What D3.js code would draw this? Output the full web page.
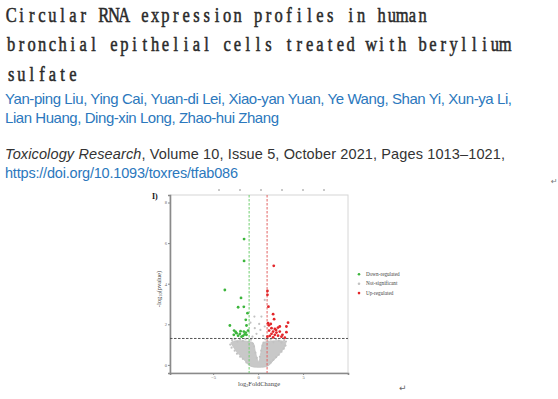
<html lang="en">
<head>
    <meta charset="UTF-8">
    <title>Circular RNA volcano plot</title>
    <script src="https://cdn.jsdelivr.net/npm/d3@7"></script>
    <style>
        body { margin: 0; background: #fff; }
    </style>
</head>
<body>
    <svg id="svg"></svg>

    <script>

        var WIDTH = 558;
        var HEIGHT = 399;

        // header text
        var titleLines = ["Circular RNA expression profiles in human",
                          "bronchial epithelial cells treated with beryllium",
                          "sulfate"];
        var authorLines = ["Yan-ping Liu, Ying Cai, Yuan-di Lei, Xiao-yan Yuan, Ye Wang, Shan Yi, Xun-ya Li,",
                           "Lian Huang, Ding-xin Long, Zhao-hui Zhang"];
        var journal = "Toxicology Research";
        var citation = ", Volume 10, Issue 5, October 2021, Pages 1013\u20131021,";
        var doi = "https://doi.org/10.1093/toxres/tfab086";

        // volcano data: [log2FoldChange, -log10(pvalue)]
        var downPts = [[-1.56,6.2],[-1.56,5.12],[-3.7,3.69],[-1.9,3.3],[-2.22,2.84],[-1.59,2.86],
                       [-1.18,2.55],[-1.37,2.22],[-3.14,1.94],[-1.29,1.94],[-2.67,1.69],[-2.4,1.56],
                       [-2.03,1.53],[-2.7,1.48],[-2.22,1.44],[-1.59,1.64],[-1.37,1.59],[-1.29,1.48],
                       [-1.67,1.43],[-1.84,1.39],[-1.11,1.69],[-2.5,1.62],[-1.95,1.66],[-1.5,1.5]];
        var upPts = [[1.74,4.88],[1.04,3.64],[1.04,3.45],[1.15,2.87],[1.67,2.5],[1.78,2.25],
                     [3.33,2.08],[3.15,1.89],[1.11,2.05],[1.41,2.02],[1.49,1.81],[1.86,1.77],
                     [2.22,1.84],[2.41,1.89],[1.22,1.69],[1.67,1.64],[2.04,1.59],[2.41,1.64],
                     [1.49,1.53],[1.86,1.48],[2.22,1.44],[2.71,1.48],[1.3,1.43],[2.6,1.39],
                     [2.97,1.34],[1.04,1.39],[1.67,1.36],[3.15,1.61],[1.2,1.95],[2.0,1.72]];
        var nsPts = [[0.74,3.2],[0.37,2.38],[-0.41,2.38],[-0.85,2.08],[0.12,2.02],[-0.37,1.81],
                     [0.26,1.72],[-0.18,1.53],[0.56,1.43],[-0.63,1.39],[0.74,1.89],
                     [-2.9,1.22],[-2.6,1.28],[-2.3,1.15],[-2.0,1.25],[-1.7,1.18],[-1.4,1.27],
                     [-1.1,1.12],[-0.8,1.24],[-0.6,1.05],[0.6,1.1],[0.8,1.26],[1.1,1.15],
                     [1.4,1.25],[1.7,1.12],[2.0,1.27],[2.3,1.2],[2.6,1.1],[2.9,1.22],[3.1,1.15],
                     [-3.1,1.0],[-2.95,0.85],[-2.6,0.7],[-2.35,0.55],[-2.0,0.4],[-1.7,0.3],
                     [-1.3,0.12],[3.05,0.95],[2.85,0.8],[2.6,0.65],[2.3,0.5],[2.0,0.38],
                     [1.7,0.25],[1.4,0.12],[-0.45,0.9],[-0.3,0.6],[-0.15,0.35],[0.2,0.4],
                     [0.35,0.7],[0.5,0.95]];
        // outline of the dense grey cloud of non-significant circRNAs
        var cloudOutline = [[-0.9,-0.05],[-1.5,0.22],[-2.2,0.55],[-2.75,0.88],[-3.0,1.1],
                            [-2.6,1.18],[-1.0,1.15],[-0.55,1.08],[-0.28,0.6],[0.06,0.16],
                            [0.3,0.6],[0.55,1.08],[1.0,1.15],[2.7,1.18],[3.05,1.1],[2.95,0.88],
                            [2.4,0.55],[1.7,0.22],[1.1,-0.05],[0.1,-0.12]];

        var yTicks = [0, 2, 4, 6, 8];
        var xTicks = [-5, 0, 5];
        var fcCut = [-1, 1];
        var pCut = 1.301;
        var legendLabels = ["Down-regulated", "Not-significant", "Up-regulated"];
        var prevTicks = [0, 1, 2, 3, 4, 5];

        var GREEN = "#3cb53c";
        var RED = "#e3262a";
        var GREY = "#c2c2c2";
        var BLUE = "#2b78bd";

        var svg = d3.select('#svg')
                    .attr("width", WIDTH)
                    .attr("height", HEIGHT);

        svg.append("rect")
            .attr("width", WIDTH)
            .attr("height", HEIGHT)
            .attr("fill", "#fff");

        // title: fixed-width serif, one cell per character
        var CELL = 10.29, SX = 0.75;
        svg.selectAll("g.title")
            .data(titleLines)
            .enter()
            .append("g")
            .attr("class", "title")
            .attr("transform", function(d, i){ return "translate(6," + (22 + i * 29.4) + ") scale(" + SX + ",1)"; })
            .append("text")
            .attr("x", function(d){
                return d.split("").map(function(c, i){ return ((i + 0.5) * CELL / SX).toFixed(2); }).join(" ");
            })
            .attr("text-anchor", "middle")
            .attr("font-family", "Liberation Serif, serif")
            .attr("font-size", "22px")
            .attr("fill", "#2a2a2a")
            .attr("stroke", "#2a2a2a")
            .attr("stroke-width", 0.55)
            .text(function(d){ return d; });

        var authorWidths = [507, 274];
        svg.selectAll("text.author")
            .data(authorLines)
            .enter()
            .append("text")
            .attr("class", "author")
            .attr("x", 5)
            .attr("y", function(d, i){ return 104 + i * 19.4; })
            .attr("textLength", function(d, i){ return authorWidths[i]; })
            .attr("lengthAdjust", "spacing")
            .attr("font-family", "Liberation Sans, Arial, sans-serif")
            .attr("font-size", "15px")
            .attr("fill", BLUE)
            .text(function(d){ return d; });

        var cite = svg.append("text")
            .attr("x", 5)
            .attr("y", 158.5)
            .attr("textLength", 500)
            .attr("lengthAdjust", "spacing")
            .attr("font-family", "Liberation Sans, Arial, sans-serif")
            .attr("font-size", "14.5px")
            .attr("fill", "#333");
        cite.append("tspan").attr("font-style", "italic").text(journal);
        cite.append("tspan").text(citation);

        svg.append("text")
            .attr("x", 5)
            .attr("y", 178)
            .attr("textLength", 233)
            .attr("lengthAdjust", "spacing")
            .attr("font-family", "Liberation Sans, Arial, sans-serif")
            .attr("font-size", "14.5px")
            .attr("fill", BLUE)
            .text(doi);

        // return marks from the original page
        svg.append("text")
            .attr("x", 399).attr("y", 391)
            .attr("font-family", "DejaVu Sans")
            .attr("font-size", "9px")
            .attr("fill", "#666")
            .text("\u21b5");
        svg.append("text")
            .attr("x", 551).attr("y", 184)
            .attr("font-family", "DejaVu Sans")
            .attr("font-size", "8px")
            .attr("fill", "#777")
            .text("\u21b5");

        // ---- volcano panel ----
        var PL = 170, PR = 348, PT = 195, PB = 373;

        var xScale = d3.scaleLinear()
                        .domain([-9.8, 10])
                        .range([PL, PR]);

        var yScale = d3.scaleLinear()
                        .domain([-0.4, 8.37])
                        .range([PB, PT]);

        // remnants of the panel above
        var prevScale = d3.scaleLinear().domain([0, 5]).range([219, 324]);
        svg.selectAll("line.prev")
            .data(prevTicks)
            .enter()
            .append("line")
            .attr("class", "prev")
            .attr("x1", function(d){ return prevScale(d) - 1; })
            .attr("x2", function(d){ return prevScale(d) + 1; })
            .attr("y1", 190).attr("y2", 190)
            .attr("stroke", "#777")
            .attr("stroke-width", 0.8);

        svg.append("rect")
            .attr("x", PL).attr("y", PT)
            .attr("width", PR - PL).attr("height", PB - PT)
            .attr("fill", "none")
            .attr("stroke", "#d6d6d6")
            .attr("stroke-width", 1);

        var xAxis = d3.axisBottom(xScale).tickValues(xTicks).tickSize(2).tickPadding(1);
        var yAxis = d3.axisLeft(yScale).tickValues(yTicks).tickSize(2).tickPadding(1);

        var gx = svg.append("g")
            .attr("class", "x axis")
            .attr("transform", "translate(0," + PB + ")")
            .call(xAxis);
        var gy = svg.append("g")
            .attr("class", "y axis")
            .attr("transform", "translate(" + PL + ",0)")
            .call(yAxis);

        [gx, gy].forEach(function(g){
            g.select(".domain").attr("stroke", "#8a8a8a").attr("stroke-width", 1.6);
            g.selectAll(".tick line").attr("stroke", "#888");
            g.selectAll(".tick text")
             .attr("font-family", "Liberation Serif, serif")
             .attr("font-size", "4.6px")
             .attr("fill", "#666");
        });

        var line = d3.line()
                    .x(function(d){ return xScale(d[0]); })
                    .y(function(d){ return yScale(d[1]); })
                    .curve(d3.curveCatmullRomClosed);

        svg.append("path")
            .datum(cloudOutline)
            .attr("d", line)
            .attr("fill", "#c8c8c8")
            .attr("stroke", "#c2c2c2")
            .attr("stroke-width", 0.8);

        svg.selectAll("circle.ns")
            .data(nsPts)
            .enter()
            .append("circle")
            .attr("class", "ns")
            .attr("cx", function(d){ return xScale(d[0]); })
            .attr("cy", function(d){ return yScale(d[1]); })
            .attr("r", 1.1)
            .attr("fill", GREY);

        // threshold lines
        svg.selectAll("line.fc")
            .data(fcCut)
            .enter()
            .append("line")
            .attr("class", "fc")
            .attr("x1", function(d){ return xScale(d); })
            .attr("x2", function(d){ return xScale(d); })
            .attr("y1", PT).attr("y2", PB)
            .attr("stroke", function(d){ return d < 0 ? "#6fcf6f" : "#e26262"; })
            .attr("stroke-width", 1)
            .attr("stroke-dasharray", "2.5,1.5");

        svg.append("line")
            .attr("x1", PL).attr("x2", PR)
            .attr("y1", yScale(pCut)).attr("y2", yScale(pCut))
            .attr("stroke", "#555")
            .attr("stroke-width", 1)
            .attr("stroke-dasharray", "2.5,1.5");

        svg.selectAll("circle.down")
            .data(downPts)
            .enter()
            .append("circle")
            .attr("class", "down")
            .attr("cx", function(d){ return xScale(d[0]); })
            .attr("cy", function(d){ return yScale(d[1]); })
            .attr("r", 1.4)
            .attr("fill", GREEN);

        svg.selectAll("circle.up")
            .data(upPts)
            .enter()
            .append("circle")
            .attr("class", "up")
            .attr("cx", function(d){ return xScale(d[0]); })
            .attr("cy", function(d){ return yScale(d[1]); })
            .attr("r", 1.4)
            .attr("fill", RED);

        // axis titles
        var xt = svg.append("text")
            .attr("x", 259).attr("y", 386)
            .attr("text-anchor", "middle")
            .attr("font-family", "Liberation Serif, serif")
            .attr("font-size", "6.5px")
            .attr("fill", "#444");
        xt.append("tspan").text("log");
        xt.append("tspan").attr("font-size", "4.2px").attr("dy", 1.4).text("2");
        xt.append("tspan").attr("dy", -1.4).text("FoldChange");

        var yt = svg.append("text")
            .attr("transform", "translate(160.5,289) rotate(-90)")
            .attr("text-anchor", "middle")
            .attr("font-family", "Liberation Serif, serif")
            .attr("font-size", "6.5px")
            .attr("fill", "#444");
        yt.append("tspan").text("-log");
        yt.append("tspan").attr("font-size", "4.2px").attr("dy", 1.4).text("10");
        yt.append("tspan").attr("dy", -1.4).text("(pvalue)");

        svg.append("text")
            .attr("x", 152).attr("y", 199)
            .attr("font-family", "Liberation Serif, serif")
            .attr("font-weight", "bold")
            .attr("font-size", "8px")
            .attr("fill", "#111")
            .text("I)");

        // legend
        var legendColors = [GREEN, GREY, RED];
        var lg = svg.selectAll("g.legend")
            .data(legendLabels)
            .enter()
            .append("g")
            .attr("class", "legend")
            .attr("transform", function(d, i){ return "translate(359," + (274.3 + i * 9.4) + ")"; });
        lg.append("circle")
            .attr("r", 1.3)
            .attr("fill", function(d, i){ return legendColors[i]; });
        lg.append("text")
            .attr("x", 7).attr("y", 1.7)
            .attr("font-family", "Liberation Serif, serif")
            .attr("font-size", "5.2px")
            .attr("fill", "#444")
            .text(function(d){ return d; });

    </script>

</body>
</html>
